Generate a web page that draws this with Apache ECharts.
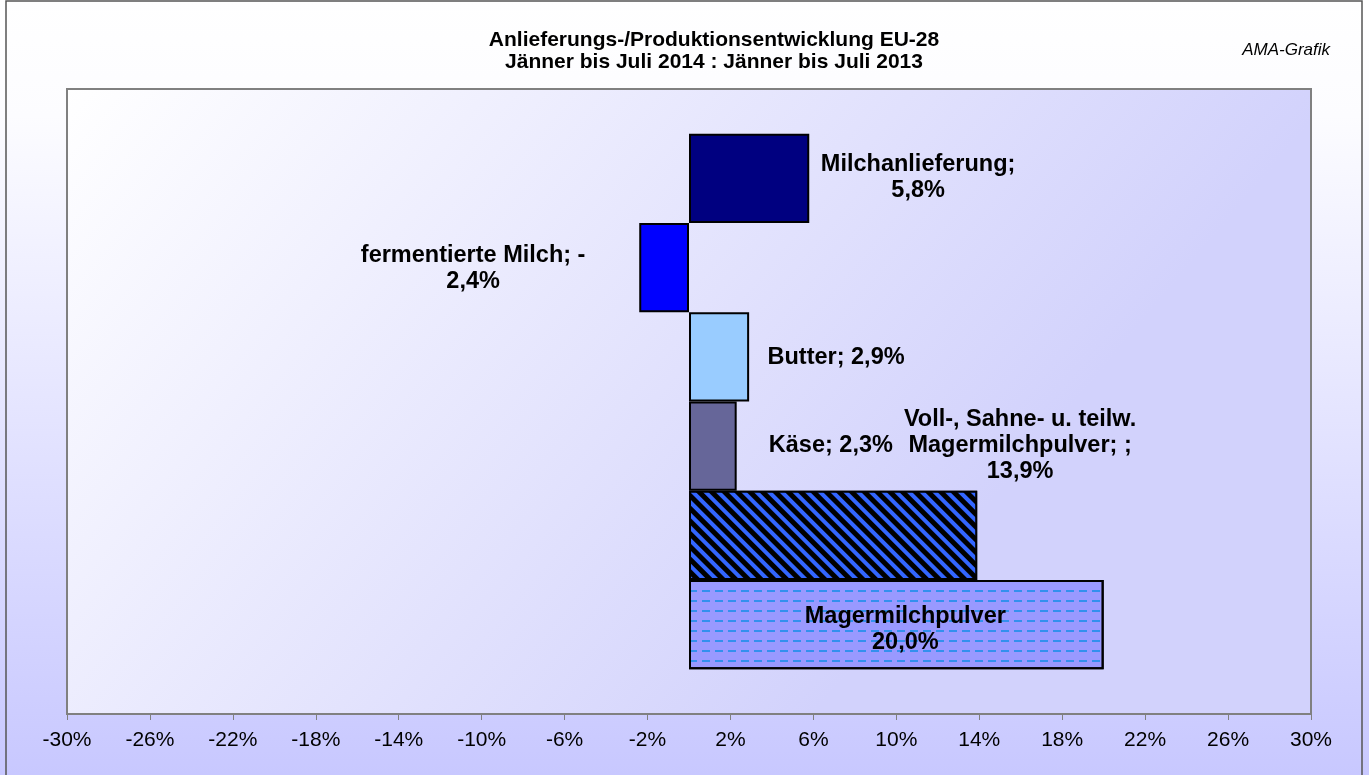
<!DOCTYPE html>
<html>
<head>
<meta charset="utf-8">
<title>Anlieferungs-/Produktionsentwicklung EU-28</title>
<script src="https://cdn.jsdelivr.net/npm/echarts@6/dist/echarts.min.js"></script>
<style>
    html, body { margin: 0; padding: 0; }
    #draw-main { width: 1369px; height: 775px; }
</style>
</head>
<body>
<div id="draw-main"></div>
<script>
// Veränderung Jänner-Juli 2014 zu 2013 in %
let categories = ['Milchanlieferung', 'fermentierte Milch', 'Butter', 'Käse', 'Voll-, Sahne- u. teilw. Magermilchpulver; ', 'Magermilchpulver'];
let values = [5.8, -2.4, 2.9, 2.3, 13.9, 20.0];
let tickLabels = [-30, -26, -22, -18, -14, -10, -6, -2, 2, 6, 10, 14, 18, 22, 26, 30];

let font = "'Liberation Sans', Arial, sans-serif";

let barColors = ['#000080', '#0000ff', '#99ccff', '#666699', '#000000', '#9999ff'];
// Verschiebung der Beschriftung gegenüber der Balkenmitte
let labelOffsets = [[169, -1], [-191, 1], [117, 1], [118, -1], [187, -90], [9, 5]];
let decals = {
    4: { symbol: 'rect', symbolSize: 1, color: '#3366ff', dashArrayX: [1, 0], dashArrayY: [4, 5], rotation: Math.PI / 4 },
    5: { symbol: 'rect', symbolSize: 1, color: '#3390ee', dashArrayX: [8, 5], dashArrayY: [2, 8] }
};

let pct = function (v) {
    return v.toFixed(1).replace('.', ',') + '%';
};

// Umbrüche wie in der Excel-Vorlage
let labelText = function (i) {
    let name = categories[i];
    let v = values[i];
    switch (i) {
        case 0: return name + ';\n' + pct(v);
        case 1: return name + '; -\n' + pct(-v);
        case 4: return name.replace('teilw. ', 'teilw.\n') + ';\n' + pct(v);
        case 5: return name + '\n' + pct(v);
        default: return name + '; ' + pct(v);
    }
};

let chartObj = {
    init: function () {
        this.draw();
    },
    draw: function () {
        let myChart = echarts.init(document.getElementById('draw-main'));

        let seriesData = values.map(function (v, i) {
            let item = {
                value: [v, i + 1],
                itemStyle: { color: barColors[i] },
                label: { offset: labelOffsets[i] }
            };
            if (decals[i]) {
                item.itemStyle.decal = decals[i];
            }
            return item;
        });

        let option = {
            backgroundColor: {
                type: 'linear', x: 0, y: 0, x2: 0, y2: 1,
                colorStops: [{ offset: 0, color: '#ffffff' }, { offset: 0.15, color: '#fcfcff' }, { offset: 1, color: '#c8c8ff' }]
            },
            title: [{
                text: 'Anlieferungs-/Produktionsentwicklung EU-28\nJänner bis Juli 2014 : Jänner bis Juli 2013',
                left: 709,
                top: 24,
                textAlign: 'center',
                textStyle: { fontSize: 21, fontWeight: 'bold', lineHeight: 22, color: '#000', fontFamily: font }
            }, {
                text: 'AMA-Grafik',
                right: 34,
                top: 37,
                textStyle: { fontSize: 17, fontStyle: 'italic', fontWeight: 'normal', color: '#000', fontFamily: font }
            }],
            grid: {
                left: 67,
                right: 58,
                top: 89,
                bottom: 61,
                outerBoundsMode: 'none',
                show: true,
                borderColor: '#808080',
                borderWidth: 2,
                backgroundColor: {
                    type: 'linear', x: 0, y: 0, x2: 0.6, y2: 1,
                    colorStops: [{ offset: 0, color: '#ffffff' }, { offset: 1, color: '#d2d2fc' }]
                }
            },
            xAxis: {
                type: 'value',
                min: -30,
                max: 30,
                splitLine: { show: false },
                axisLine: { show: true, onZero: false, lineStyle: { color: '#808080', width: 2 } },
                axisTick: { show: true, customValues: tickLabels, length: 6, lineStyle: { color: '#808080', width: 1 } },
                axisLabel: { customValues: tickLabels, formatter: '{value}%', margin: 16, color: '#000', fontSize: 21, fontFamily: font }
            },
            yAxis: {
                type: 'category',
                data: [''].concat(categories, [' ']),
                boundaryGap: false,
                inverse: true,
                show: false
            },
            graphic: [{
                type: 'rect',
                shape: { x: 6, y: 1, width: 1356, height: 800 },
                style: { fill: 'none', stroke: '#555', lineWidth: 1.5 },
                silent: true
            }],
            series: [{
                type: 'bar',
                barCategoryGap: '0%',
                data: seriesData,
                itemStyle: { borderColor: '#000', borderWidth: 2 },
                label: {
                    show: true,
                    position: 'inside',
                    align: 'center',
                    verticalAlign: 'middle',
                    color: '#000',
                    textBorderWidth: 0,
                    fontSize: 23.5,
                    fontWeight: 'bold',
                    lineHeight: 26,
                    fontFamily: font,
                    formatter: function (p) {
                        return labelText(p.dataIndex);
                    }
                }
            }]
        };

        myChart.setOption(option, true);
    }
};

chartObj.init();
</script>
</body>
</html>
